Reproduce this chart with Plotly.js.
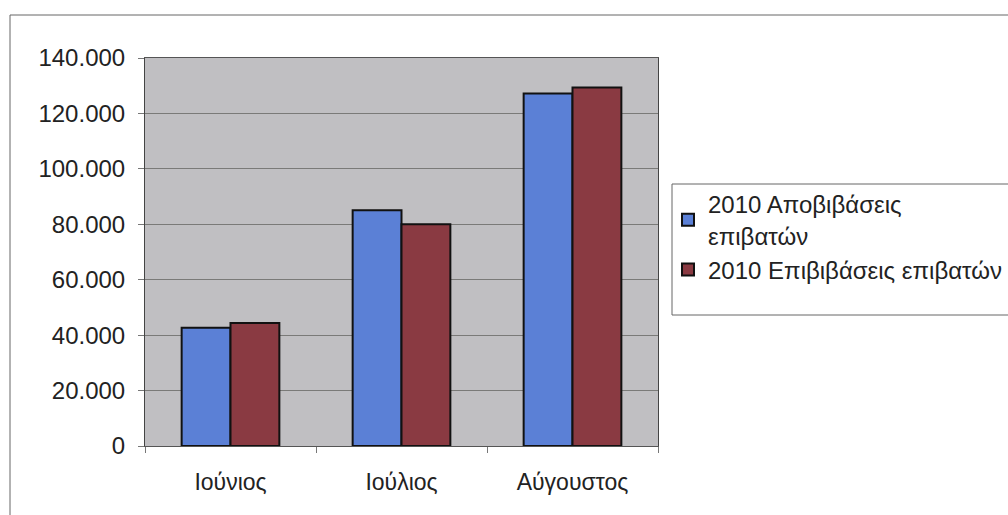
<!DOCTYPE html>
<html>
<head>
<meta charset="utf-8">
<script src="https://cdn.plot.ly/plotly-3.0.1.min.js"></script>
<style>html,body{margin:0;padding:0;background:#fff;}#chart{width:1008px;height:515px;}</style>
</head>
<body>
<div id="chart"></div>
<script>
const months = ["Ιούνιος", "Ιούλιος", "Αύγουστος"];
const seriesNames = ["2010 Αποβιβάσεις<br>επιβατών", "2010 Επιβιβάσεις επιβατών"];
const disembark = [42700, 85100, 127200];
const embark = [44400, 80000, 129400];
const yTicks = [0, 20000, 40000, 60000, 80000, 100000, 120000, 140000];

const font = "Liberation Sans, Arial, sans-serif";
const traces = [
  {type: "bar", name: seriesNames[0], x: months, y: disembark,
   marker: {color: "#5b80d6", line: {color: "#111", width: 2}}},
  {type: "bar", name: seriesNames[1], x: months, y: embark,
   marker: {color: "#8a3a42", line: {color: "#111", width: 2}}}
];
const layout = {
  width: 1008, height: 515,
  margin: {l: 145, r: 350, t: 58, b: 69, autoexpand: false},
  paper_bgcolor: "#ffffff",
  plot_bgcolor: "#c0bfc2",
  separators: ",.",
  font: {family: font, size: 24, color: "#222"},
  barmode: "group",
  bargap: 0.4286,
  bargroupgap: 0,
  showlegend: true,
  legend: {x: (668 - 145) / 513, y: (446 - 182) / 388, xanchor: "left", yanchor: "top",
           bgcolor: "rgba(0,0,0,0)", borderwidth: 0,
           font: {family: font, size: 24, color: "#222"},
           tracegroupgap: 0, traceorder: "normal", itemwidth: 30},
  xaxis: {type: "category", tickson: "boundaries", ticks: "outside", ticklen: 6,
          tickcolor: "#777", showline: true, linecolor: "#555", linewidth: 1,
          mirror: true, showgrid: false, tickfont: {size: 23}, ticklabelstandoff: 15},
  yaxis: {range: [0, 140000], tickvals: yTicks, tickformat: ",d", ticks: "outside",
          ticklen: 6, tickcolor: "#777", showline: true, linecolor: "#444", linewidth: 1,
          mirror: true, gridcolor: "#7a7a78", gridwidth: 1, zeroline: false,
          tickfont: {size: 24}, ticklabelstandoff: 8},
  shapes: [
    {type: "rect", xref: "paper", yref: "paper",
     x0: (10 - 145) / 513, x1: 1.8, y0: -0.5, y1: (446 - 15) / 388,
     line: {color: "#666", width: 1}, fillcolor: "rgba(0,0,0,0)", layer: "below"},
    {type: "rect", xref: "paper", yref: "paper",
     x0: (672 - 145) / 513, x1: (1012 - 145) / 513, y0: (446 - 315) / 388, y1: (446 - 184) / 388,
     line: {color: "#666", width: 1}, fillcolor: "#ffffff", layer: "below"}
  ]
};
Plotly.newPlot("chart", traces, layout, {displayModeBar: false, staticPlot: true});
</script>
</body>
</html>
